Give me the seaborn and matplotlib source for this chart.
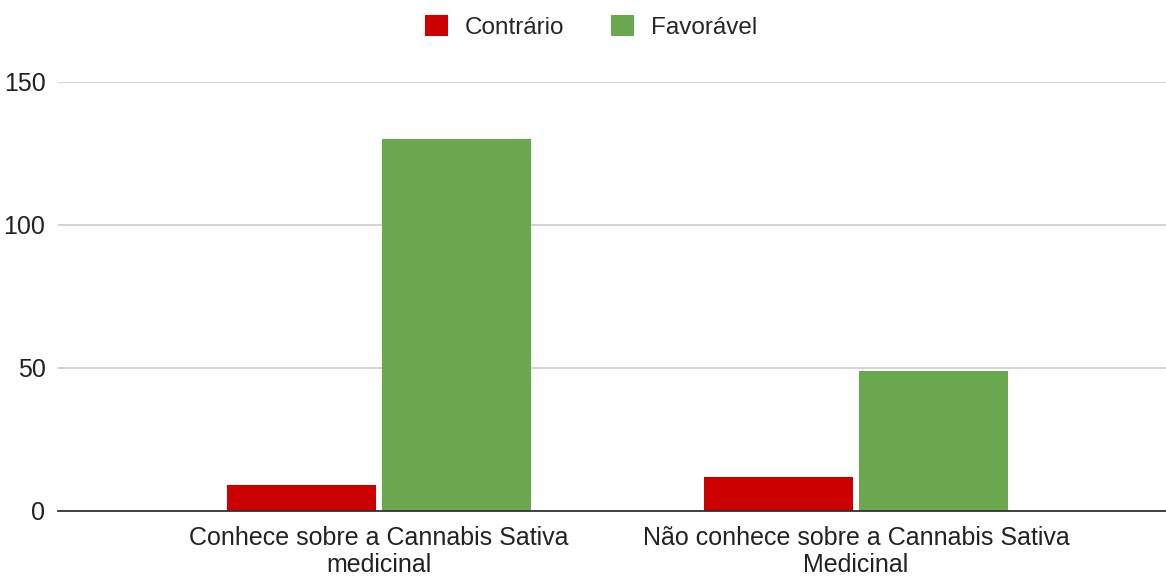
import numpy as np
import pandas as pd
import matplotlib.pyplot as plt
import seaborn as sns

categories = ['Conhece sobre a Cannabis Sativa\nmedicinal',
              'Não conhece sobre a Cannabis Sativa\nMedicinal']
contrario = [9, 12]
favoravel = [130, 49]
series = ['Contrário', 'Favorável']
colors = ['#cc0000', '#6aa84f']

df = pd.DataFrame({
    'categoria': categories * 2,
    'serie': [series[0]] * 2 + [series[1]] * 2,
    'valor': contrario + favoravel,
})

sns.set_style('white')
plt.rcParams['font.family'] = ['Liberation Sans', 'DejaVu Sans']

fig = plt.figure(figsize=(11.66, 5.76), dpi=100)
ax = fig.add_axes([0.0497, 0.113, 0.9503, 0.745])

sns.barplot(data=df, x='categoria', y='valor', hue='serie',
            palette=colors, width=0.65, gap=0.04, ax=ax,
            saturation=1, edgecolor='none')

ax.set_xlim(-0.673, 1.65)
ax.set_ylim(0, 150)
ax.set_yticks([0, 50, 100, 150])
ax.yaxis.grid(True, color='#cccccc', linewidth=1.2)
ax.set_axisbelow(True)
for s in ['top', 'right', 'left']:
    ax.spines[s].set_visible(False)
ax.spines['bottom'].set_color('#333333')
ax.spines['bottom'].set_linewidth(1.3)
ax.set_xlabel('')
ax.set_ylabel('')
ax.tick_params(axis='y', length=0, pad=9, labelsize=18, labelcolor='#222222')
ax.tick_params(axis='x', length=0, pad=11, labelsize=18, labelcolor='#222222')
for lbl in ax.get_xticklabels():
    lbl.set_linespacing(1.15)

ax.legend(loc='center', bbox_to_anchor=(0.481, 1.128), ncol=2, frameon=False,
          fontsize=17.5, handlelength=0.95, handleheight=0.95, columnspacing=1.9,
          handletextpad=0.7)

fig.savefig('out.png', dpi=100)
